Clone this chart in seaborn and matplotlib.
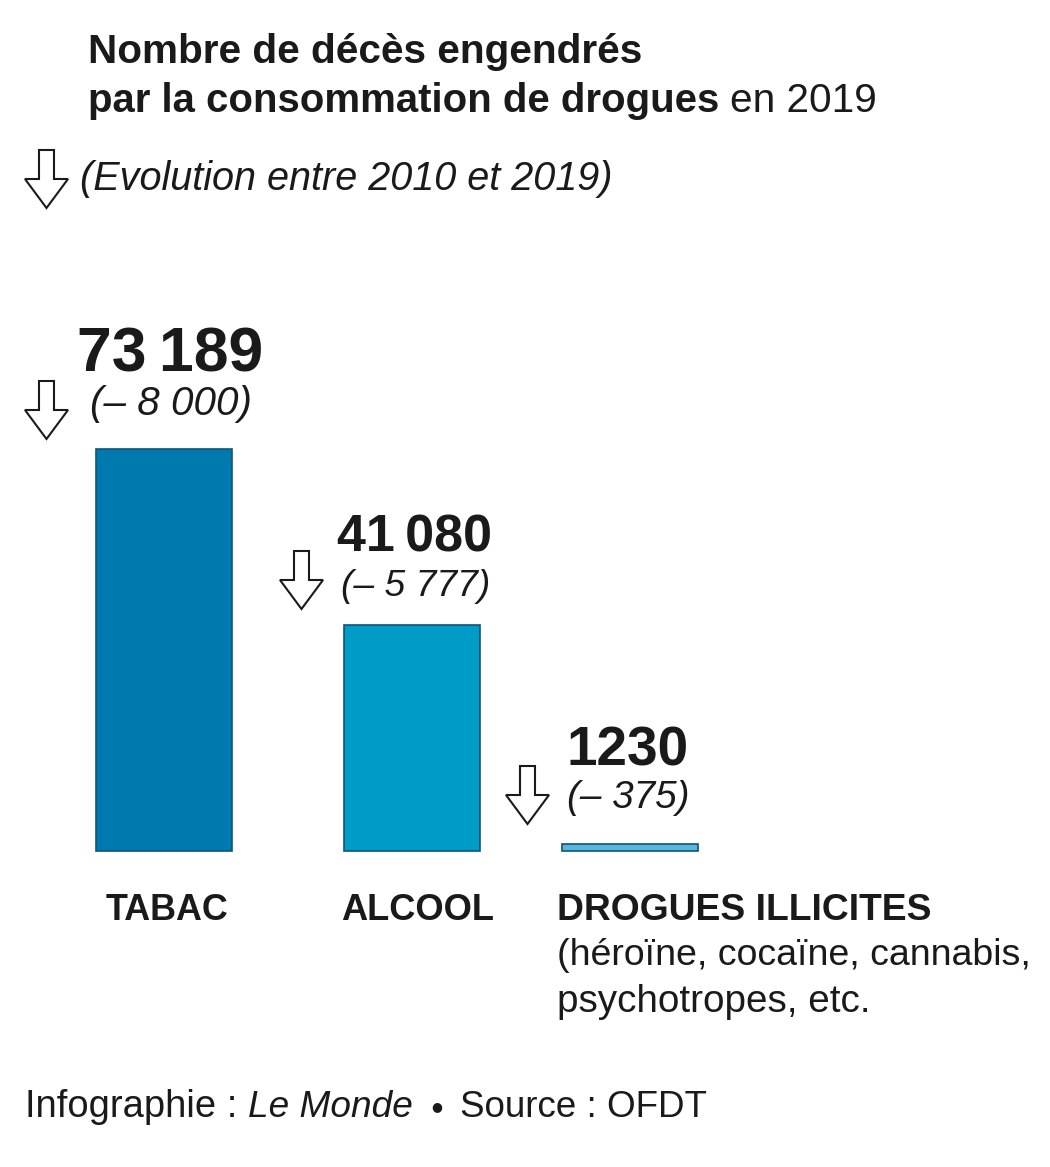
import matplotlib
matplotlib.use("Agg")
import matplotlib.pyplot as plt
from matplotlib.patches import Polygon
import seaborn as sns
import pandas as pd

# ---------------- data ----------------
categories = ["TABAC", "ALCOOL", "DROGUES ILLICITES"]
deaths_2019 = [73189, 41080, 1230]
value_labels = ["73\u2009189", "41\u2009080", "1230"]
change_labels = ["(– 8 000)", "(– 5 777)", "(– 375)"]
sub_label_lines = ["(héroïne, cocaïne, cannabis,", "psychotropes, etc."]
bar_colors = ["#0079ae", "#009cc8", "#5ab6e0"]

title_line1 = "Nombre de décès engendrés"
title_line2_bold = "par la consommation de drogues"
title_line2_reg = "en 2019"
subtitle = "(Evolution entre 2010 et 2019)"
footer_parts = ["Infographie :", "Le Monde", "Source : OFDT"]

# ---------------- layout ----------------
W, H = 1050, 1167
DPI = 100
sns.set_theme(style="white")
plt.rcParams["font.family"] = ["Liberation Sans", "DejaVu Sans"]
TXT = "#1a1a1a"
EDGE = "#0d5577"

fig = plt.figure(figsize=(W / DPI, H / DPI), dpi=DPI)
fig.patch.set_facecolor("white")
renderer = fig.canvas.get_renderer()

# bar geometry in pixels (from reference)
centers_px = [164, 412, 630]
bar_w_px = 136
base_px = 851
full_px = 402          # height of the tallest bar
unit = 233.0           # pixels per category step

k = max(deaths_2019) / full_px
ax = fig.add_axes([0, 0, 1, 1])
df = pd.DataFrame({"cat": categories, "val": deaths_2019})
sns.barplot(data=df, x="cat", y="val", hue="cat", palette=bar_colors,
            order=categories, hue_order=categories, legend=False,
            saturation=1, width=bar_w_px / unit, edgecolor=EDGE,
            linewidth=1.2, ax=ax)
ax.set_xlim(-centers_px[0] / unit, (W - centers_px[0]) / unit)
ax.set_ylim(-(H - base_px) * k, base_px * k)
ax.axis("off")
for p in ax.patches:
    cx = p.get_x() + p.get_width() / 2
    i = int(round(cx))
    target = (centers_px[i] - centers_px[0]) / unit
    p.set_x(target - p.get_width() / 2)


def put(s, x, y, w=None, size=20, **kw):
    kw.setdefault("color", TXT)
    t = fig.text(x / W, 1 - y / H, s, ha="left", va="baseline",
                 fontsize=size, **kw)
    if w:
        bb = t.get_window_extent(renderer)
        t.set_fontsize(size * w / bb.width)
    return t


def arrow(x, y, w=43, h=58):
    sw = 15
    sh = h * 0.5
    cx = x + w / 2
    pts = [(cx - sw / 2, y), (cx + sw / 2, y), (cx + sw / 2, y + sh),
           (x + w, y + sh), (cx, y + h), (x, y + sh), (cx - sw / 2, y + sh)]
    pts = [(px / W, 1 - py / H) for px, py in pts]
    poly = Polygon(pts, closed=True, facecolor="white", edgecolor=TXT,
                   linewidth=1.5, joinstyle="miter", transform=fig.transFigure)
    fig.add_artist(poly)


# title
put(title_line1, 88, 63, 553, 28, fontweight="bold")
put(title_line2_bold, 88, 112, 631, 28, fontweight="bold")
put(title_line2_reg, 730, 112, 147, 28)

# subtitle
arrow(25, 150)
put(subtitle, 80, 190, 535, 24, style="italic")

# value labels
val_pos = [(77, 372, 186), (337, 551, 155), (567, 765, 122)]
chg_pos = [(90, 415, 162), (341, 596, 149), (567, 808, 123)]
arr_pos = [(25, 381), (280, 551), (506, 766)]
for i in range(len(categories)):
    x, y, w = val_pos[i]
    put(value_labels[i], x, y, w, 40, fontweight="heavy")
    x, y, w = chg_pos[i]
    put(change_labels[i], x, y, w, 26, style="italic")
    arrow(*arr_pos[i])

# category labels
cat_pos = [(106, 920, 123), (341, 920, 153), (557, 920, 374)]
for i, c in enumerate(categories):
    x, y, w = cat_pos[i]
    put(c, x, y, w, 26, fontweight="bold")
put(sub_label_lines[0], 557, 965, 473, 26)
put(sub_label_lines[1], 557, 1012, 313, 26)

# footer
put(footer_parts[0], 25, 1117, 212, 26)
put(footer_parts[1], 248, 1117, 165, 26, style="italic")
fig.text(437 / W, 1 - 1107 / H, "●", ha="center", va="center",
         fontsize=9, color=TXT, family="DejaVu Sans")
put(footer_parts[2], 460, 1117, 247, 26)

fig.savefig("out.png", dpi=DPI, facecolor="white")
